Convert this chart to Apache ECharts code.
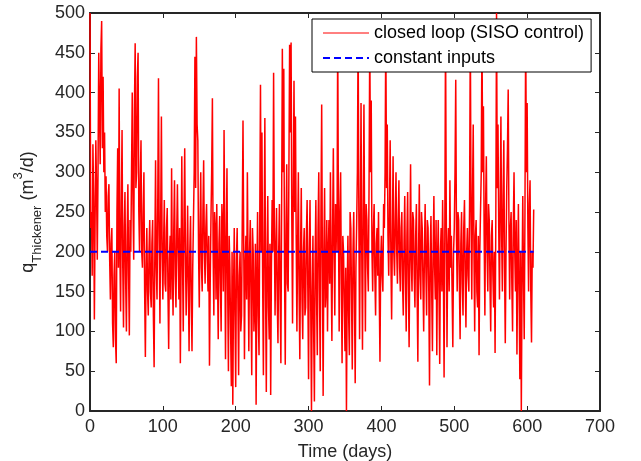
<!DOCTYPE html>
<html>
<head>
<meta charset="utf-8">
<script src="https://cdn.jsdelivr.net/npm/echarts@6/dist/echarts.min.js"></script>
<style>
html,body{margin:0;padding:0;background:#fff;}
#chart{width:641px;height:461px;}
</style>
</head>
<body>
<div id="chart"></div>
<script>
// Sampling step of the read-off closed-loop series (days)
const dayStep = 1;
// Closed loop (SISO control) flow, m3/d, one value per day from day 0 to 609
const closedLoop = [
  500,230,250,170,335,270,115,240,340,280,190,300,450,380,310,455,490,330,420,300,
  350,250,295,220,200,270,285,190,140,210,230,110,80,170,200,90,60,250,330,180,
  405,200,125,260,353,180,105,230,275,160,100,220,285,170,95,240,200,300,400,260,
  190,380,462,280,300,420,450,250,200,290,340,200,180,250,300,150,68,180,230,150,
  120,200,240,150,130,210,240,120,55,200,315,180,140,260,418,220,110,240,370,200,
  140,210,265,160,150,230,255,150,78,190,220,140,305,180,120,230,290,170,130,220,
  285,200,140,230,60,180,320,190,100,240,330,200,120,180,258,160,75,200,245,140,
  75,180,240,300,445,280,470,360,340,200,130,230,300,180,150,250,315,200,160,230,
  260,190,150,220,57,160,240,300,393,200,120,250,230,140,260,170,90,210,245,160,
  100,260,230,150,353,220,65,210,305,150,50,220,180,100,31,200,8,150,230,120,
  30,190,230,140,45,170,200,100,120,240,365,210,65,180,220,140,300,180,75,200,
  240,140,45,230,200,100,130,210,8,160,250,120,70,240,410,200,350,160,45,220,
  368,150,24,190,270,130,90,210,20,180,265,200,425,230,120,200,255,140,85,200,
  260,140,60,250,455,300,430,180,58,220,310,160,150,300,460,350,463,240,110,280,
  415,250,370,220,100,210,300,150,65,200,280,140,90,200,230,120,130,220,265,150,
  40,200,265,130,0,150,220,100,12,190,265,140,70,230,300,150,50,250,385,180,
  19,200,280,130,150,240,100,200,240,160,300,180,88,230,330,200,120,260,250,200,
  480,240,100,250,300,160,60,220,200,130,75,180,0,150,220,120,70,250,230,140,
  52,200,250,140,35,180,235,300,480,250,90,230,387,200,77,240,385,220,100,260,
  240,180,150,280,470,300,390,200,150,230,260,170,120,210,230,170,250,150,62,190,
  220,170,150,260,230,300,480,280,360,220,170,250,340,190,115,220,320,200,170,240,
  300,200,160,240,290,180,150,230,250,160,120,210,270,170,100,220,275,160,80,200,
  310,190,150,250,240,170,130,220,260,150,62,200,285,170,140,250,230,160,100,200,
  260,180,120,240,230,150,32,200,245,150,75,200,270,180,140,240,70,190,240,150,
  59,200,230,150,265,180,42,220,480,250,80,200,230,150,290,180,220,150,80,200,
  230,300,416,220,150,250,240,160,90,210,250,160,120,230,265,170,105,200,230,170,
  150,260,480,250,140,270,360,200,100,220,240,150,130,220,70,200,250,300,480,300,
  383,220,120,260,320,200,150,260,240,160,100,220,240,170,130,200,73,240,500,280,
  360,230,140,260,370,220,150,270,340,180,85,200,280,330,404,240,140,230,250,160,
  100,230,300,200,150,240,71,180,260,150,40,200,0,160,270,170,90,250,480,300,
  387,230,150,260,290,150,86,200,180,253
];
// Constant inputs reference
const constDays = [0, 609];
const constValues = [200, 200];
// Axis ticks
const xTicks = [0, 100, 200, 300, 400, 500, 600, 700];
const yTicks = [0, 50, 100, 150, 200, 250, 300, 350, 400, 450, 500];
const seriesNames = ['closed loop (SISO control)', 'constant inputs'];

const closedData = closedLoop.map((v, i) => [i * dayStep, v]);
const constData = constDays.map((d, i) => [d, constValues[i]]);

const font = '"Liberation Sans", Arial, Helvetica, sans-serif';
const axisColor = '#262626';

const chart = echarts.init(document.getElementById('chart'), null, {renderer: 'canvas'});
const xBase = {
  type: 'value', min: xTicks[0], max: xTicks[xTicks.length - 1], interval: xTicks[1] - xTicks[0],
  splitLine: {show: false},
  axisLine: {show: true, onZero: false, lineStyle: {color: axisColor, width: 2}},
  axisTick: {show: true, inside: true, length: 5, lineStyle: {color: axisColor, width: 1}}
};
const yBase = {
  type: 'value', min: yTicks[0], max: yTicks[yTicks.length - 1], interval: yTicks[1] - yTicks[0],
  splitLine: {show: false},
  axisLine: {show: true, onZero: false, lineStyle: {color: axisColor, width: 2}},
  axisTick: {show: true, inside: true, length: 5, lineStyle: {color: axisColor, width: 1}}
};
chart.setOption({
  animation: false,
  backgroundColor: '#ffffff',
  grid: {left: 90, right: 41, top: 13, bottom: 50, containLabel: false, outerBoundsMode: 'none'},
  legend: {
    orient: 'vertical', left: 312, top: 19,
    data: [
      {name: seriesNames[0], lineStyle: {width: 1, color: '#ff0000'}},
      {name: seriesNames[1], lineStyle: {width: 2, color: '#0000ff', type: [7, 4]}}
    ],
    backgroundColor: '#ffffff', borderColor: '#000000', borderWidth: 1,
    padding: [4, 7, 4, 10],
    itemWidth: 46, itemHeight: 20, itemGap: 5,
    itemStyle: {opacity: 0},
    textStyle: {fontFamily: font, fontSize: 18, color: '#000', lineHeight: 20},
    z: 10
  },
  xAxis: [
    Object.assign({}, xBase, {
      position: 'bottom',
      axisLabel: {show: true, margin: 7, fontFamily: font, fontSize: 18, color: axisColor},
      name: 'Time (days)', nameLocation: 'middle', nameGap: 32,
      nameTextStyle: {fontFamily: font, fontSize: 18, color: axisColor}
    }),
    Object.assign({}, xBase, {position: 'top', axisLabel: {show: false}})
  ],
  yAxis: [
    Object.assign({}, yBase, {
      position: 'left',
      axisLabel: {show: true, margin: 5, fontFamily: font, fontSize: 18, color: axisColor},
      name: '{a|q}{b|Thickener}{a| (m}{c|3}{a|/d)}',
      nameLocation: 'middle', nameRotate: 90, nameGap: 46,
      nameTextStyle: {
        fontFamily: font, fontSize: 18, color: axisColor,
        rich: {
          a: {fontFamily: font, fontSize: 18, color: axisColor, lineHeight: 32},
          b: {fontFamily: font, fontSize: 13, color: axisColor, lineHeight: 13, verticalAlign: 'bottom'},
          c: {fontFamily: font, fontSize: 13, color: axisColor, lineHeight: 13, verticalAlign: 'top'}
        }
      }
    }),
    Object.assign({}, yBase, {position: 'right', axisLabel: {show: false}})
  ],
  series: [
    {
      name: seriesNames[0], type: 'line', data: closedData,
      xAxisIndex: 0, yAxisIndex: 0,
      symbol: 'none', showSymbol: false,
      lineStyle: {color: '#ff0000', width: 1.5},
      itemStyle: {color: '#ff0000'},
      z: 2
    },
    {
      name: seriesNames[1], type: 'line', data: constData,
      xAxisIndex: 0, yAxisIndex: 0,
      symbol: 'none', showSymbol: false,
      lineStyle: {color: '#0000ff', width: 2, type: [7, 4]},
      itemStyle: {color: '#0000ff'},
      z: 3
    }
  ]
});
</script>
</body>
</html>
